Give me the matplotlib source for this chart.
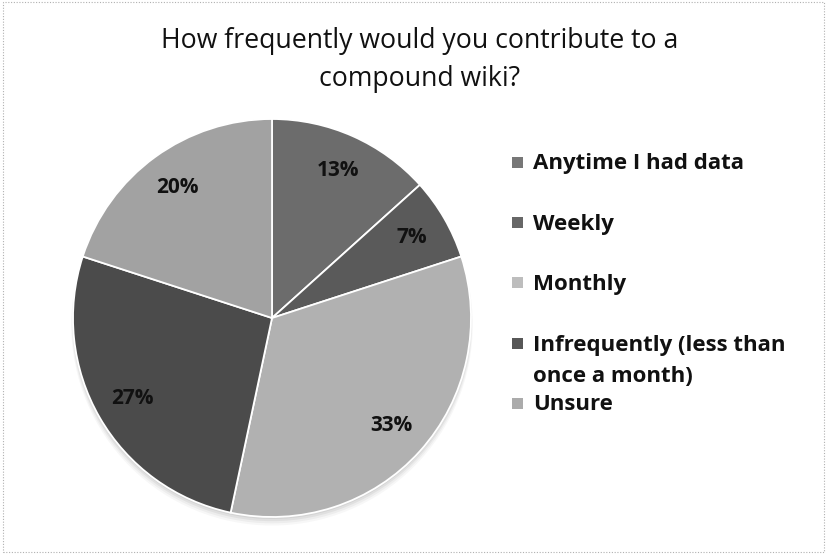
import matplotlib.pyplot as plt
from matplotlib.patches import Rectangle, Circle

# Survey answers (number of respondents per option)
categories = ["Anytime I had data", "Weekly", "Monthly",
              "Infrequently (less than\nonce a month)", "Unsure"]
counts = [2, 1, 5, 4, 3]
colors = ["#6c6c6c", "#5a5a5a", "#b1b1b1", "#4b4b4b", "#a2a2a2"]
legend_colors = ["#777777", "#676767", "#bdbdbd", "#575757", "#ababab"]

title = "How frequently would you contribute to a\ncompound wiki?"

FONT = ["Open Sans", "DejaVu Sans"]
W, H = 827, 554
fig = plt.figure(figsize=(W / 100, H / 100), dpi=100)
fig.patch.set_facecolor("white")


def fx(px):
    return px / W


def fy(py):
    return 1 - py / H


# dotted frame round the chart area
fig.patches.append(Rectangle((0.004, 0.004), 0.992, 0.992, transform=fig.transFigure,
                             fill=False, edgecolor="#b0b0b0", linewidth=0.8,
                             linestyle=(0, (1, 1.5))))

# va="baseline" anchors the last line of multi-line text
fig.text(fx(420), fy(86), title, ha="center", va="baseline", multialignment="center",
         fontsize=19.2, family=FONT, linespacing=1.49, color="#111111")

# pie in pixel units
cx, cy, r = 272, 318, 199
ax = fig.add_axes([fx(cx - r), (H - cy - r) / H, 2 * r / W, 2 * r / H])

# soft shadow under the pie
for k, a in enumerate([0.06, 0.05, 0.04, 0.03]):
    ax.add_patch(Circle((0.0, -0.01 - 0.008 * k), 1.0 + 0.003 * k,
                        facecolor="#000000", alpha=a, edgecolor="none",
                        zorder=0, clip_on=False))

wedges, texts, autotexts = ax.pie(
    counts, colors=colors, startangle=90, counterclock=False,
    autopct=lambda p: f"{p:.0f}%", pctdistance=0.81,
    wedgeprops=dict(edgecolor="white", linewidth=1.3),
    textprops=dict(fontsize=15, fontweight="bold", color="#111111", family=FONT))
for w in wedges:
    w.set_zorder(1)
ax.set_xlim(-1, 1)
ax.set_ylim(-1, 1)
ax.set_aspect("equal")
ax.axis("off")

# legend on the right
base0, step, gap = 169.5, 60.2, 32
for i, (lab, c) in enumerate(zip(categories, legend_colors)):
    b = base0 + step * i
    fig.patches.append(Rectangle((fx(512), fy(b - 1.5)), 11 / W, 11 / H,
                                 transform=fig.transFigure, facecolor=c,
                                 edgecolor="none"))
    last = b + gap * lab.count("\n")
    fig.text(fx(533), fy(last), lab, ha="left", va="baseline",
             fontsize=16, fontweight="bold", linespacing=1.64, color="#111111",
             family=FONT)

fig.savefig("out.png", dpi=100)
